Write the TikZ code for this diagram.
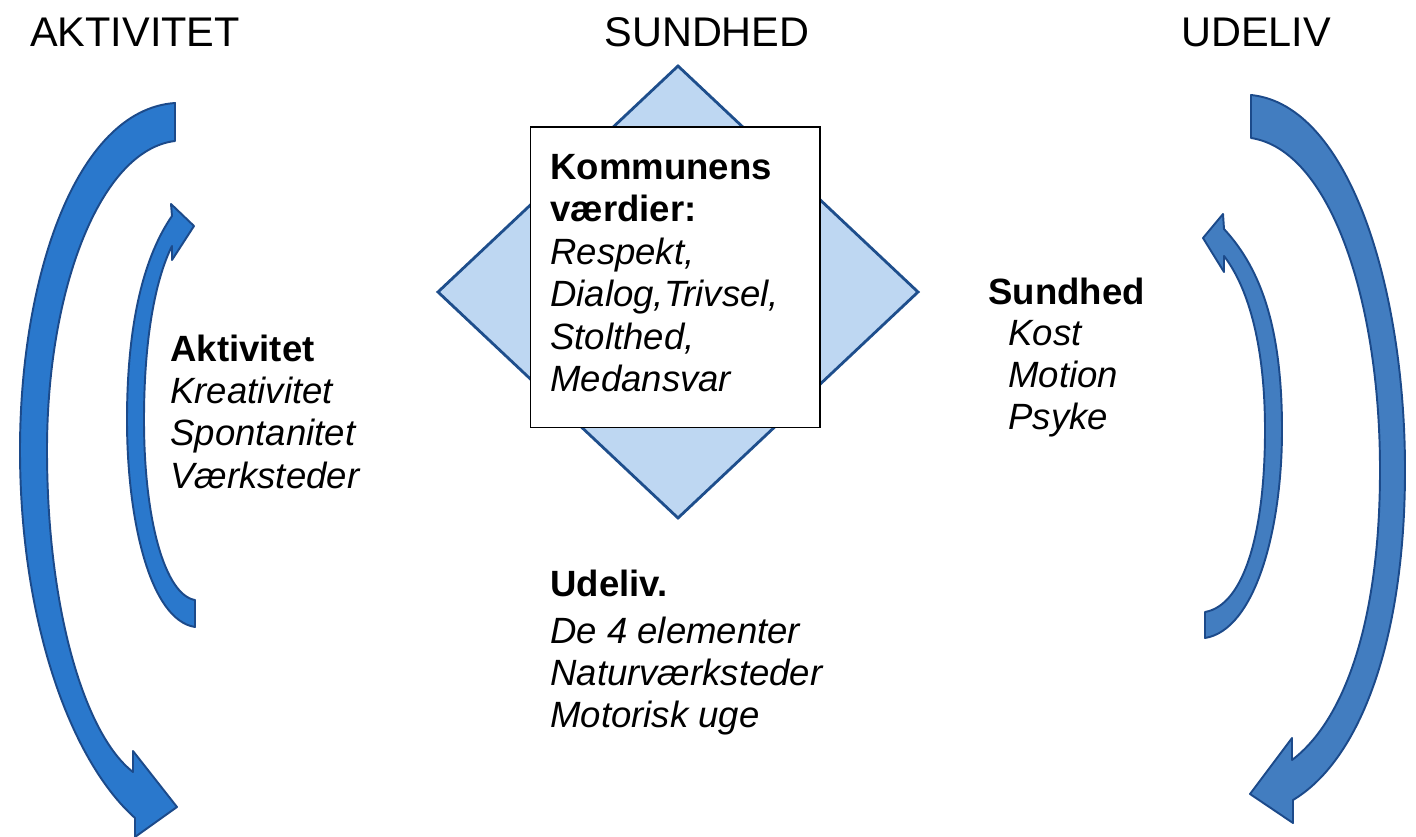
\documentclass[tikz,border=0pt]{standalone}
\usepackage{fontspec}
\setmainfont{Liberation Sans}
\usepackage{tikz}

\definecolor{leftblue}{RGB}{42,120,204}
\definecolor{rightblue}{RGB}{66,125,192}
\definecolor{arrowedge}{RGB}{28,74,138}
\definecolor{diamondfill}{RGB}{190,215,242}
\definecolor{diamondedge}{RGB}{30,78,140}

\tikzset{
  title/.style={anchor=base, inner sep=0pt, font=\fontsize{23.6}{28}\selectfont},
  head/.style={anchor=base west, inner sep=0pt, font=\fontsize{20.8}{25}\selectfont\bfseries},
  item/.style={anchor=base west, inner sep=0pt, font=\fontsize{20.8}{25}\selectfont\itshape},
  bluearrow/.style={draw=arrowedge, line width=1.1pt, line join=round},
}

\begin{document}
\begin{tikzpicture}[x=0.02cm, y=-0.02cm]
\useasboundingbox (0,0) rectangle (1416,837);

\node[title] (akttitle) at (135,47) {AKTIVITET};
\node[title] (sundtitle) at (707,47) {SUNDHED};
\node[title] (udetitle) at (1256,47) {UDELIV};

\draw[draw=diamondedge, fill=diamondfill, line width=1.6pt] (678,66) -- (918,292) -- (678,518) -- (438,292) -- cycle;
\node[draw=black, fill=white, line width=0.6pt, minimum width=5.8cm, minimum height=6.02cm, inner sep=0pt] (box) at (675,277.5) {};

\node[head] (komm) at (550,180) {Kommunens};
\node[head] (vaerd) at (550,222) {værdier:};
\node[item] (resp) at (550,265) {Respekt,};
\node[item] (dial) at (550,307) {Dialog,Trivsel,};
\node[item] (stol) at (550,350) {Stolthed,};
\node[item] (medan) at (550,392) {Medansvar};

\node[head] (akt) at (170,362) {Aktivitet};
\node[item] (krea) at (170,404) {Kreativitet};
\node[item] (spon) at (170,446) {Spontanitet};
\node[item] (vaerk) at (170,488) {Værksteder};

\node[head] (sund) at (988,305) {Sundhed};
\node[item] (kost) at (1008,346) {Kost};
\node[item] (moti) at (1008,388) {Motion};
\node[item] (psyk) at (1008,430) {Psyke};

\node[head] (udel) at (550,596) {Udeliv.};
\node[item] (elem) at (550,643) {De 4 elementer};
\node[item] (natur) at (550,685) {Naturværksteder};
\node[item] (motor) at (550,727) {Motorisk uge};

\draw[bluearrow, fill=leftblue] (175,103) .. controls (75,110) and (20,280) .. (20,450)
  .. controls (20,620) and (70,760) .. (135,818) -- (135,837) -- (177,807) -- (133,751) -- (133,772)
  .. controls (85,735) and (47,610) .. (47,450) .. controls (47,290) and (100,150) .. (175,141) -- cycle;
\draw[bluearrow, fill=leftblue] (195,627) .. controls (150,620) and (127,520) .. (127,420)
  .. controls (127,320) and (145,255) .. (172,216) -- (171,204) -- (194,226) -- (172,260) -- (172,246)
  .. controls (155,280) and (144,340) .. (144,420) .. controls (144,520) and (165,595) .. (195,600) -- cycle;
\draw[bluearrow, fill=rightblue] (1251,95) .. controls (1350,105) and (1405,290) .. (1405,470)
  .. controls (1405,640) and (1360,760) .. (1293,800) -- (1293,823) -- (1250,794) -- (1292,738) -- (1292,760)
  .. controls (1345,720) and (1380,620) .. (1380,470) .. controls (1380,300) and (1330,150) .. (1251,138) -- cycle;
\draw[bluearrow, fill=rightblue] (1205,638) .. controls (1255,630) and (1282,530) .. (1282,430)
  .. controls (1282,330) and (1262,270) .. (1224,229) -- (1223,214) -- (1203,238) -- (1224,272) -- (1224,256)
  .. controls (1250,290) and (1265,350) .. (1265,430) .. controls (1265,530) and (1245,605) .. (1205,612) -- cycle;
\end{tikzpicture}
\end{document}
